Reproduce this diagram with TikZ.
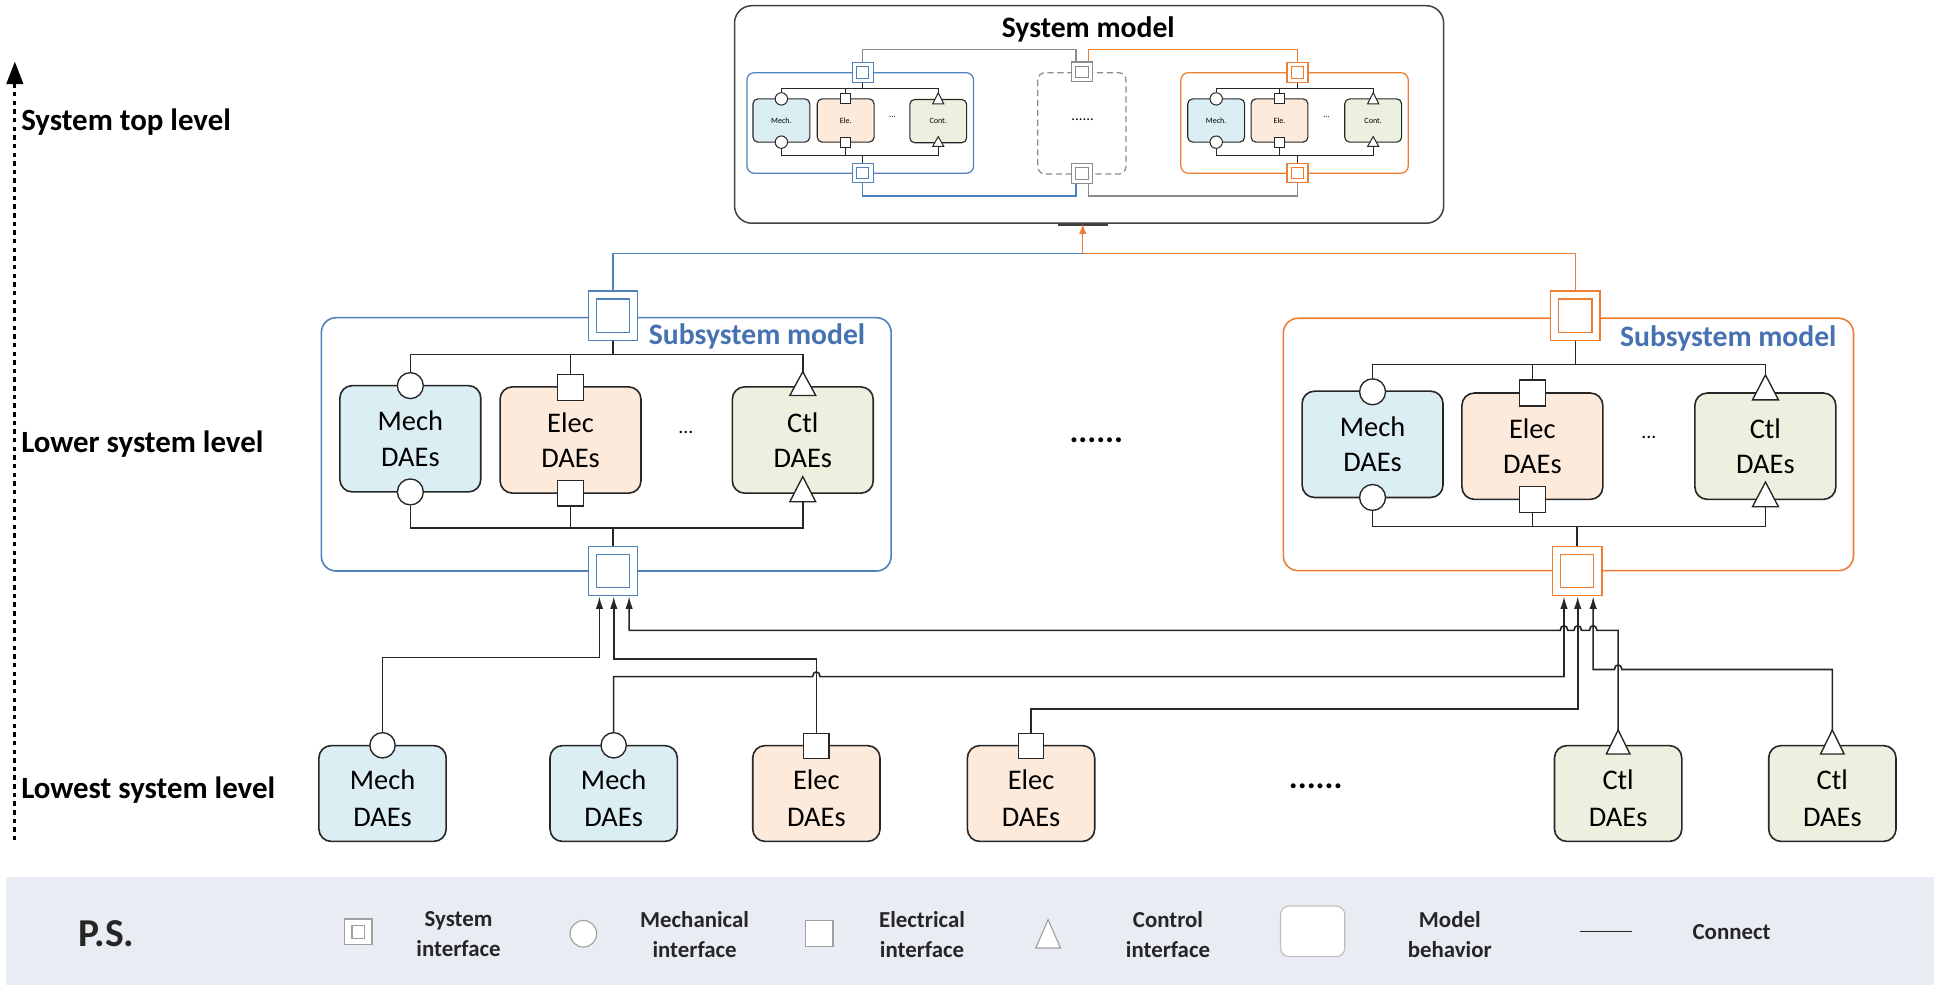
\documentclass[tikz,border=0pt]{standalone}
\usepackage{fontspec}
\setmainfont{Carlito}
\usetikzlibrary{arrows.meta}
\definecolor{cblue}{RGB}{79,129,189}
\definecolor{ctxtblue}{RGB}{70,114,178}
\definecolor{corange}{RGB}{237,125,49}
\definecolor{cgray}{RGB}{140,140,140}
\definecolor{mechfill}{RGB}{219,238,243}
\definecolor{elecfill}{RGB}{253,234,218}
\definecolor{ctlfill}{RGB}{235,241,222}
\definecolor{legbg}{RGB}{233,237,243}
\definecolor{framec}{RGB}{64,64,64}
\definecolor{lgray}{RGB}{160,160,160}
\newcommand\bigIF[4]{%
 \node[draw=#4, fill=white, line width=1.1pt, minimum size=40pt, inner sep=0pt] (#1) at (#2,#3) {};
 \node[draw=#4, line width=1.1pt, minimum size=27pt, inner sep=0pt] at (#1.center) {};}
\newcommand\smIF[4]{%
 \node[draw=#4, fill=white, line width=0.9pt, minimum width=17pt, minimum height=16pt, inner sep=0pt] (#1) at (#2,#3) {};
 \node[draw=#4, line width=0.9pt, minimum width=10pt, minimum height=9.5pt, inner sep=0pt] at (#1.center) {};}
\newcommand\porttri[6][1.1pt]{%
 \draw[ptri, line width=#1] ({#3-#6},#5) -- (#3,#4) -- ({#3+#6},#5) -- cycle;
 \coordinate (#2-t) at (#3,#4); \coordinate (#2-b) at (#3,#5);}
\begin{document}
\begin{tikzpicture}[x=1pt,y=-1pt,
 blk/.style={draw=black!85, line width=1.3pt, rounded corners=10pt, inner sep=0pt, align=center,
   font=\fontsize{23}{28.5}\selectfont, minimum width=114pt, minimum height=86pt},
 mechb/.style={blk, fill=mechfill}, elecb/.style={blk, fill=elecfill}, ctlb/.style={blk, fill=ctlfill},
 lowb/.style={minimum width=103pt, minimum height=77.5pt},
 lowtxt/.style={align=center, inner sep=0pt, font=\fontsize{23}{30}\selectfont},
 tinyb/.style={draw=black!85, line width=0.9pt, rounded corners=4pt, inner sep=0pt,
   minimum width=46pt, minimum height=35pt, font=\fontsize{6.5}{7}\selectfont},
 pcirc/.style={circle, draw=black!85, fill=white, line width=1.1pt, minimum size=21pt, inner sep=0pt},
 psq/.style={draw=black!85, fill=white, line width=1.1pt, minimum size=21pt, inner sep=0pt},
 ptri/.style={draw=black!85, fill=white, line join=miter},
 spcirc/.style={pcirc, minimum size=10pt, line width=0.8pt},
 spsq/.style={psq, minimum size=8pt, line width=0.8pt},
 wire/.style={draw=black!85, line width=1.2pt},
 swire/.style={draw=black!85, line width=0.9pt},
 conn/.style={draw=black!85, line width=1.3pt},
 arr/.style={conn, -{Latex[length=10pt,width=6pt]}},
 subtitle/.style={font=\bfseries\fontsize{24}{24}\selectfont, text=ctxtblue, anchor=west, inner sep=0pt},
 dots/.style={font=\bfseries\fontsize{27}{27}\selectfont, inner sep=0pt},
 lvl/.style={font=\bfseries\fontsize{25}{25}\selectfont, anchor=west, inner sep=0pt},
 legtext/.style={font=\bfseries\fontsize{18.5}{24}\selectfont, align=center, text=black!85}
]
\useasboundingbox (0,0) rectangle (1568,801);

% ---------------- legend panel
\fill[legbg] (5,709.8) rectangle (1565,797);

% ---------------- left axis
\draw[line width=2.6pt, dash pattern=on 3.6pt off 3.4pt] (12,680) -- (12,66);
\fill (5,68) -- (12,50) -- (19,68) -- cycle;
\node[lvl] (l1) at (17,99) {System top level};
\node[lvl] (l2) at (17,359) {Lower system level};
\node[lvl] (l3) at (17,639) {Lowest system level};

% ---------------- system model
\node[draw=framec, rounded corners=14pt, line width=1.2pt, minimum width=573.7pt, minimum height=176pt, inner sep=0pt] (sys) at (881.15,92.6) {};
\node[font=\bfseries\fontsize{24}{24}\selectfont, inner sep=0pt] (systitle) at (880.5,23.5) {System model};
\draw[framec, line width=1.8pt] (855.6,181.6) -- (896.7,181.6);

% blue sub (top level)
\draw[cblue, line width=1pt, rounded corners=6pt] (604.3,58.8) rectangle (787.7,140.2);
\node[tinyb, fill=mechfill] (sbM) at (632.2,97.5) {Mech.};
\node[tinyb, fill=elecfill] (sbE) at (684.2,97.5) {Ele.};
\node[tinyb, fill=ctlfill] (sbC) at (759.1,98) {Cont.};
\node[font=\fontsize{7}{7}\selectfont] at (722,95) {...};
\node[spcirc] (sbMt) at (632.2,80) {};
\node[spcirc] (sbMb) at (632.2,115) {};
\node[spsq] (sbEt) at (684.2,80) {};
\node[spsq] (sbEb) at (684.2,115) {};
\porttri[0.8pt]{sbCt}{759.1}{75}{84}{4.5}
\porttri[0.8pt]{sbCb}{759.1}{110.5}{118.5}{4.5}
\smIF{bIFt}{698}{58.6}{cblue}
\smIF{bIFb}{698}{140}{cblue}
\coordinate (sbT) at (698,71.5);
\coordinate (sbB) at (698,126);
\draw[swire] (bIFt.south) -- (sbT);
\draw[swire] (sbMt.north) |- (sbT) -| (sbCt-t);
\draw[swire] (sbEt.north) -- (sbEt.north |- sbT);
\draw[swire] (bIFb.north) -- (sbB);
\draw[swire] (sbMb.south) |- (sbB) -| (sbCb-b);
\draw[swire] (sbEb.south) -- (sbEb.south |- sbB);

% dashed middle
\draw[cgray, line width=1pt, rounded corners=6pt, dash pattern=on 5pt off 3pt] (839.6,58.8) rectangle (911,140.8);
\node[font=\fontsize{12}{12}\selectfont] at (876,97) {......};
\smIF{gIFt}{875.5}{58.2}{cgray}
\smIF{gIFb}{875.5}{140.5}{cgray}

% orange sub (top level)
\draw[corange, line width=1pt, rounded corners=6pt] (955.4,58.8) rectangle (1139.4,140.2);
\node[tinyb, fill=mechfill] (soM) at (984,97.5) {Mech.};
\node[tinyb, fill=elecfill] (soE) at (1035.2,97.5) {Ele.};
\node[tinyb, fill=ctlfill] (soC) at (1111,97.5) {Cont.};
\node[font=\fontsize{7}{7}\selectfont] at (1073.3,95) {...};
\node[spcirc] (soMt) at (984,80) {};
\node[spcirc] (soMb) at (984,115) {};
\node[spsq] (soEt) at (1035.2,80) {};
\node[spsq] (soEb) at (1035.2,115) {};
\porttri[0.8pt]{soCt}{1111}{75}{84}{4.5}
\porttri[0.8pt]{soCb}{1111}{110.5}{118.5}{4.5}
\smIF{oIFt}{1049.8}{58.6}{corange}
\smIF{oIFb}{1049.8}{140}{corange}
\coordinate (soT) at (1049.8,71.5);
\coordinate (soB) at (1049.8,125.5);
\draw[swire] (oIFt.south) -- (soT);
\draw[swire] (soMt.north) |- (soT) -| (soCt-t);
\draw[swire] (soEt.north) -- (soEt.north |- soT);
\draw[swire] (oIFb.north) -- (soB);
\draw[swire] (soMb.south) |- (soB) -| (soCb-b);
\draw[swire] (soEb.south) -- (soEb.south |- soB);

% connections inside system model
\coordinate (g1) at (870.6,40);
\coordinate (g2) at (880.4,40);
\coordinate (g3) at (870.6,158.6);
\coordinate (g4) at (880.4,158.6);
\draw[cgray, line width=1pt] (bIFt.north) |- (g1) -- (g1 |- gIFt.north);
\draw[corange, line width=1pt] (g2 |- gIFt.north) -- (g2) -| (oIFt.north);
\draw[cblue, line width=1pt] (bIFb.south) |- (g3) -- (g3 |- gIFb.south);
\draw[cgray, line width=1pt] (g4 |- gIFb.south) -- (g4) -| (oIFb.south);

% ---------------- left subsystem
\draw[cblue, line width=1.3pt, rounded corners=12pt] (260,257) rectangle (721,462);
\node[subtitle] (Lt) at (524.8,272.5) {Subsystem model};
\node[mechb] (LM) at (332,355) {Mech\\DAEs};
\node[elecb] (LE) at (461.6,356) {Elec\\DAEs};
\node[ctlb] (LC) at (649.5,356) {Ctl\\DAEs};
\node[font=\fontsize{16}{16}\selectfont] at (555,350) {...};
\node[pcirc] (LMt) at (332,312) {};
\node[pcirc] (LMb) at (332,398) {};
\node[psq] (LEt) at (461.6,313.5) {};
\node[psq] (LEb) at (461.6,399) {};
\porttri{LCt}{649.5}{300.7}{320}{10.5}
\porttri{LCb}{649.5}{385.6}{406}{10.5}
\bigIF{LIFt}{496}{255.5}{cblue}
\bigIF{LIFb}{496}{462}{cblue}
\coordinate (LbT) at (496,287);
\coordinate (LbB) at (496,427);
\draw[wire] (LIFt.south) -- (LbT);
\draw[wire] (LMt.north) |- (LbT) -| (LCt-t);
\draw[wire] (LEt.north) -- (LEt.north |- LbT);
\draw[wire] (LIFb.north) -- (LbB);
\draw[wire] (LMb.south) |- (LbB) -| (LCb-b);
\draw[wire] (LEb.south) -- (LEb.south |- LbB);

% ---------------- right subsystem
\draw[corange, line width=1.3pt, rounded corners=12pt] (1038.3,257.5) rectangle (1499.6,461.7);
\node[subtitle] (Rt) at (1310.6,274) {Subsystem model};
\node[mechb] (RM) at (1110.5,359.5) {Mech\\DAEs};
\node[elecb] (RE) at (1239.8,361) {Elec\\DAEs};
\node[ctlb] (RC) at (1428.3,361) {Ctl\\DAEs};
\node[font=\fontsize{16}{16}\selectfont] at (1334,354) {...};
\node[pcirc] (RMt) at (1110.5,317) {};
\node[pcirc] (RMb) at (1110.5,402.5) {};
\node[psq] (REt) at (1240,318) {};
\node[psq] (REb) at (1240,404) {};
\porttri{RCt}{1428.4}{303.3}{323.5}{10.5}
\porttri{RCb}{1428.4}{390}{410}{10.5}
\bigIF{RIFt}{1274.5}{255.5}{corange}
\bigIF{RIFb}{1276}{462}{corange}
\coordinate (RbT) at (1274.5,295);
\coordinate (RbB) at (1276,426);
\draw[wire] (RIFt.south) -- (RbT);
\draw[wire] (RMt.north) |- (RbT) -| (RCt-t);
\draw[wire] (REt.north) -- (REt.north |- RbT);
\draw[wire] (RIFb.north) -- (RbB);
\draw[wire] (RMb.south) |- (RbB) -| (RCb-b);
\draw[wire] (REb.south) -- (REb.south |- RbB);

\node[dots] at (887,356) {......};

% subsystems -> system model
\coordinate (jn) at (876,205);
\draw[cblue, line width=1.1pt] (LIFt.north) |- (jn);
\draw[corange, line width=1.1pt] (RIFt.north) |- (jn);
\draw[corange, line width=1.1pt, -{Latex[length=8pt,width=6pt]}] (jn) -- (jn |- sys.south);

% ---------------- lowest level
\node[mechb, lowb] (M1) at (309.5,642) {};
\node[mechb, lowb] (M2) at (496.5,642) {};
\node[elecb, lowb] (E1) at (660.5,642) {};
\node[elecb, lowb] (E2) at (834.2,642) {};
\node[ctlb, lowb] (C1) at (1309.2,642) {};
\node[ctlb, lowb] (C2) at (1482.5,642) {};
\node[lowtxt] (M1t) at (309.5,646) {Mech\\DAEs};
\node[lowtxt] (M2t) at (496.5,646) {Mech\\DAEs};
\node[lowtxt] (E1t) at (660.5,646) {Elec\\DAEs};
\node[lowtxt] (E2t) at (834.2,646) {Elec\\DAEs};
\node[lowtxt] (C1t) at (1309.2,646) {Ctl\\DAEs};
\node[lowtxt] (C2t) at (1482.5,646) {Ctl\\DAEs};
\node[dots] at (1064.5,636) {......};
\node[pcirc, minimum size=20.5pt] (M1p) at (309.5,603) {};
\node[pcirc, minimum size=20.5pt] (M2p) at (496.5,603) {};
\node[psq, minimum size=20.5pt] (E1p) at (660.5,603.5) {};
\node[psq, minimum size=20.5pt] (E2p) at (834.2,603.5) {};
\porttri{C1p}{1309.2}{590.6}{610}{9.5}
\porttri{C2p}{1482.5}{590.6}{610}{9.5}

\coordinate (bA1) at ([xshift=-11pt]LIFb.south);
\coordinate (bA2) at ([xshift=0.6pt]LIFb.south);
\coordinate (bA3) at ([xshift=13pt]LIFb.south);
\coordinate (oA1) at ([xshift=-10.6pt]RIFb.south);
\coordinate (oA2) at ([xshift=0.5pt]RIFb.south);
\coordinate (oA3) at ([xshift=13pt]RIFb.south);

\draw[arr] (M1p.north) |- (485,532) -- (bA1);
\draw[arr] (E1p.north) |- (496.6,533) -- (bA2);
\draw[arr] (C1p-t) -- (1309.2,510) -- (1292,510)
  .. controls (1292,505) and (1286,505) .. (1286,510) -- (1279.5,510)
  .. controls (1279.5,505) and (1273.5,505) .. (1273.5,510) -- (1268.4,510)
  .. controls (1268.4,505) and (1262.4,505) .. (1262.4,510) -- (509,510) -- (bA3);
\draw[arr] (M2p.north) |- (657.5,547.4)
  .. controls (657.5,542.4) and (663.5,542.4) .. (663.5,547.4) -- (1265.4,547.4) -- (oA1);
\draw[arr] (E2p.north) |- (1276.5,573.6) -- (oA2);
\draw[arr] (C2p-t) |- (1312.2,541.7)
  .. controls (1312.2,536.7) and (1306.2,536.7) .. (1306.2,541.7) -- (1289,541.7) -- (oA3);

% ---------------- legend
\node[font=\bfseries\fontsize{32}{32}\selectfont, inner sep=0pt, text=black!85] (ps) at (86,755) {P.S.};
\node[draw=lgray, fill=white, line width=0.9pt, minimum width=22pt, minimum height=21pt, inner sep=0pt] (lgSI) at (290,754) {};
\node[draw=lgray, line width=0.9pt, minimum width=10.5pt, minimum height=10pt, inner sep=0pt] at (lgSI.center) {};
\node[legtext] (tSI) at (371,756) {System\\interface};
\node[circle, draw=lgray, fill=white, line width=0.9pt, minimum size=21.5pt, inner sep=0pt] (lgMI) at (472,755.5) {};
\node[legtext] (tMI) at (562,756) {Mechanical\\interface};
\node[draw=lgray, fill=white, line width=0.9pt, minimum width=22pt, minimum height=21pt, inner sep=0pt] (lgEI) at (663,755.5) {};
\node[legtext] (tEI) at (746,756) {Electrical\\interface};
\draw[draw=lgray, fill=white, line width=0.9pt] (838,767) -- (848,744) -- (858,767) -- cycle;
\node[legtext] (tCI) at (945,756) {Control\\interface};
\node[draw=lgray!70, fill=white, line width=0.9pt, rounded corners=7pt, minimum width=52pt, minimum height=41pt, inner sep=0pt] (lgMB) at (1062,753.5) {};
\node[legtext] (tMB) at (1173,756) {Model\\behavior};
\coordinate (lgC1) at (1278,753.7);
\coordinate (lgC2) at (1320,753.7);
\draw[conn] (lgC1) -- (lgC2);
\node[legtext] (tCo) at (1401,754) {Connect};
\end{tikzpicture}
\end{document}
